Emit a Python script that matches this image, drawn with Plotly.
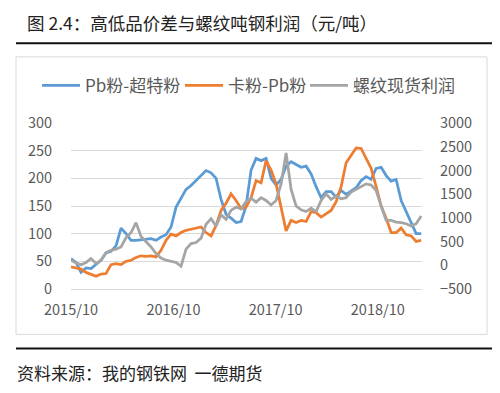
import pandas as pd
import plotly.graph_objects as go

# ---- data ----
dates = pd.date_range("2015-10-01", "2019-03-05", periods=71)

pb_minus_super = [55, 48, 30, 38, 37, 44, 52, 65, 68, 78,
                  110, 100, 88, 88, 89, 90, 91, 88, 94, 98,
                  112, 148, 163, 180, 187, 196, 205, 214, 210, 200,
                  162, 135, 128, 120, 122, 150, 215, 236, 232, 236,
                  200, 188, 198, 222, 230, 225, 220, 222, 208, 185,
                  165, 176, 176, 166, 178, 171, 177, 183, 196, 203,
                  198, 218, 220, 205, 195, 198, 160, 140, 120, 100, 100]

ka_minus_pb = [40, 38, 36, 30, 26, 23, 27, 28, 44, 46,
               44, 50, 52, 57, 60, 59, 60, 58, 70, 88,
               99, 96, 102, 106, 108, 110, 112, 102, 96, 115,
               142, 155, 172, 160, 145, 148, 165, 196, 192, 232,
               215, 190, 150, 105, 124, 120, 124, 122, 140, 138,
               130, 136, 142, 158, 185, 228, 242, 255, 254, 235,
               218, 185, 150, 128, 102, 102, 110, 98, 96, 86, 88]

rebar_profit = [107, 48, 13, 60, 142, 37, 107, 270, 317, 340,
                387, 585, 690, 900, 608, 503, 387, 247, 153, 107,
                83, 60, -20, 340, 457, 480, 573, 865, 982, 830,
                1063, 970, 1157, 1227, 1192, 1343, 1413, 1332, 1425, 1367,
                1273, 1367, 1717, 2370, 1600, 1250, 1168, 1133, 1203, 1133,
                1367, 1507, 1390, 1460, 1402, 1425, 1542, 1600, 1658, 1717,
                1693, 1577, 1250, 947, 947, 912, 900, 877, 830, 877, 1040]

x_tickvals = ["2015-10-01", "2016-10-01", "2017-10-01", "2018-10-01"]
x_ticktext = ["2015/10", "2016/10", "2017/10", "2018/10"]
names = ["Pb粉-超特粉", "卡粉-Pb粉", "螺纹现货利润"]

# ---- layout helpers: reference pixel -> paper (page body has an 8px margin) ----
OFF = 8
W, H = 500 - OFF, 393 - OFF
L = 71 - OFF
T = 123 - OFF
R = W - (422 - OFF)
B = H - (288.7 - OFF)
PW, PH = W - L - R, H - T - B


def xp(px):
    return (px - OFF - L) / PW


def yp(py):
    return (H - B - (py - OFF)) / PH


FONT = "Noto Sans CJK SC"
fig = go.Figure()
fig.add_trace(go.Scatter(x=dates, y=pb_minus_super, name=names[0], mode="lines",
                         line=dict(color="#5B9BD5", width=2.75), legend="legend"))
fig.add_trace(go.Scatter(x=dates, y=ka_minus_pb, name=names[1], mode="lines",
                         line=dict(color="#ED7D31", width=2.75), legend="legend2"))
fig.add_trace(go.Scatter(x=dates, y=rebar_profit, name=names[2], mode="lines",
                         line=dict(color="#A5A5A5", width=2.75), yaxis="y2", legend="legend3"))

tickfont = dict(family=FONT, size=14.5, color="#595959")


def leg(px):
    return dict(orientation="h", x=xp(px), xanchor="left", y=yp(86), yanchor="middle",
                font=dict(family=FONT, size=17, color="#595959"),
                bgcolor="rgba(0,0,0,0)", itemwidth=38)


fig.update_layout(
    width=W, height=H,
    margin=dict(l=L, r=R, t=T, b=B, pad=0),
    paper_bgcolor="white", plot_bgcolor="white",
    showlegend=True,
    legend=leg(37), legend2=leg(180), legend3=leg(305),
    xaxis=dict(type="date", range=["2015-10-01", "2019-03-08"],
               tickvals=x_tickvals, ticktext=x_ticktext, tickfont=tickfont,
               showgrid=False, zeroline=False, showline=False,
               ticks="outside", ticklen=8, tickcolor="rgba(0,0,0,0)"),
    yaxis=dict(range=[0, 300], dtick=50, tickfont=tickfont,
               showgrid=True, gridcolor="#D9D9D9", gridwidth=1,
               zeroline=True, zerolinecolor="#D9D9D9", zerolinewidth=1,
               showline=False, ticks="outside", ticklen=15, tickcolor="rgba(0,0,0,0)"),
    yaxis2=dict(range=[-500, 3000], dtick=500, tickfont=tickfont, overlaying="y", side="right",
                showgrid=False, zeroline=False, showline=False,
                ticks="outside", ticklen=14, tickcolor="rgba(0,0,0,0)"),
    shapes=[
        dict(type="rect", xref="paper", yref="paper", x0=xp(16), x1=xp(487), y0=yp(57), y1=yp(334),
             line=dict(color="#D9D9D9", width=1), layer="below"),
        dict(type="line", xref="paper", yref="paper", x0=xp(16), x1=xp(492), y0=yp(43.5), y1=yp(43.5),
             line=dict(color="#111111", width=2)),
        dict(type="line", xref="paper", yref="paper", x0=xp(16), x1=xp(492), y0=yp(348), y1=yp(348),
             line=dict(color="#111111", width=2)),
    ],
    annotations=[
        dict(text="图 2.4：高低品价差与螺纹吨钢利润（元/吨）", xref="paper", yref="paper",
             x=xp(25), y=yp(23), xanchor="left", yanchor="middle", showarrow=False,
             font=dict(family=FONT, size=17.5, color="#222222")),
        dict(text="资料来源：我的钢铁网  一德期货", xref="paper", yref="paper",
             x=xp(15), y=yp(372), xanchor="left", yanchor="middle", showarrow=False,
             font=dict(family=FONT, size=17, color="#222222")),
    ],
)

fig.write_html("out.html")
